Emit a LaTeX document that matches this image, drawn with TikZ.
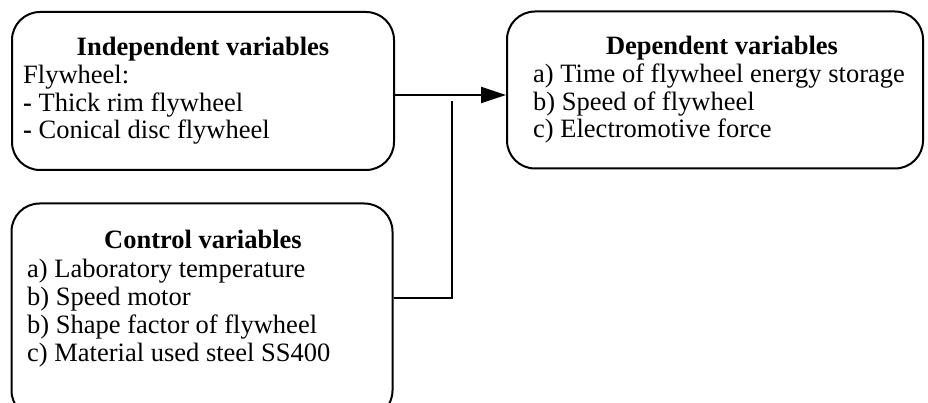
\documentclass[tikz,border=0pt]{standalone}
\usepackage{fontspec}
\setmainfont{Liberation Serif}
\usetikzlibrary{arrows.meta}
\tikzset{
  varbox/.style={draw, line width=2pt, rounded corners=28pt, inner sep=0pt},
  head/.style={anchor=base, inner sep=0pt, font=\fontsize{26.5}{28}\selectfont\bfseries},
  item/.style={anchor=base west, inner sep=0pt, font=\fontsize{26.5}{28}\selectfont},
  link/.style={line width=2pt},
  flow/.style={line width=2pt, -{Triangle[length=25pt,width=16pt]}}
}
\begin{document}
\begin{tikzpicture}[x=1pt,y=-1pt]
\useasboundingbox (0,0) rectangle (928,403);
% boxes
\node[varbox, minimum width=382pt, minimum height=158pt] (ind) at (203,91) {};
\node[varbox, minimum width=416pt, minimum height=157pt] (dep) at (715,90) {};
\begin{scope}
\clip (0,0) rectangle (928,403);
\node[varbox, minimum width=381pt, minimum height=215pt] (ctl) at (202,311) {};
\end{scope}
% independent variables
\node[head] (indh) at (203,56) {Independent variables};
\node[item] (ind1) at (23,84) {Flywheel:};
\node[item] (ind2) at (23,111.5) {\textbf{-} Thick rim flywheel};
\node[item] (ind3) at (23,139) {\textbf{-} Conical disc flywheel};
% dependent variables
\node[head] (deph) at (722,55) {Dependent variables};
\node[item] (dep1) at (533,83) {a) Time of flywheel energy storage};
\node[item] (dep2) at (533,110.5) {b) Speed of flywheel};
\node[item] (dep3) at (533,138) {c) Electromotive force};
% control variables
\node[head] (ctlh) at (203,248) {Control variables};
\node[item] (ctl1) at (27,277) {a) Laboratory temperature};
\node[item] (ctl2) at (27,305) {b) Speed motor};
\node[item] (ctl3) at (27,333) {b) Shape factor of flywheel};
\node[item] (ctl4) at (27,361) {c) Material used steel SS400};
% connectors
\draw[flow] (ind.east |- 0,95) -- (dep.west |- 0,95);
\coordinate (join) at (452,101);
\draw[link] (ctl.east |- 0,298) -| (join);
\end{tikzpicture}
\end{document}
